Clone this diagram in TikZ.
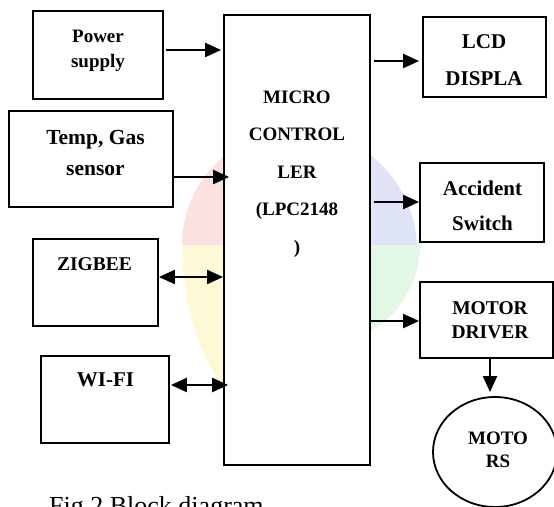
\documentclass[tikz,border=0pt]{standalone}
\usepackage{fontspec}
\setmainfont{Liberation Serif}
\usetikzlibrary{arrows.meta,calc,shapes.geometric}
\definecolor{wpink}{RGB}{251,226,224}
\definecolor{wyel}{RGB}{255,248,214}
\definecolor{wblue}{RGB}{222,228,246}
\definecolor{wgreen}{RGB}{226,247,228}
\begin{document}
\begin{tikzpicture}[x=1pt,y=-1pt,
  box/.style={draw,line width=1.8pt,fill=white,inner sep=0pt},
  lbl/.style={align=center,anchor=base,inner sep=0pt},
  arr/.style={line width=2.2pt,-{Triangle[length=16pt,width=14pt]}},
  biarr/.style={line width=2.2pt,{Triangle[length=16pt,width=14pt]}-{Triangle[length=16pt,width=14pt]}}]
\useasboundingbox (0,0) rectangle (554,506);
\clip (0,0) rectangle (554,506);
% faint watermark colours
\fill[wpink] (297,245) -- (182,245) arc[start angle=180,end angle=270,radius=115] -- cycle;
\fill[wyel] (297,245) -- (182,245) arc[start angle=180,end angle=90,x radius=115,y radius=185] -- cycle;
\fill[wblue] (297,245) -- (297,130) arc[start angle=270,end angle=360,radius=120] -- cycle;
\fill[wgreen] (297,245) -- (420,245) arc[start angle=0,end angle=90,radius=100] -- cycle;
% boxes
\node[box,minimum width=130pt,minimum height=88pt] (power) at (98,55) {};
\node[box,minimum width=164pt,minimum height=96pt] (temp) at (91,159) {};
\node[box,minimum width=125pt,minimum height=87pt] (zig) at (95.5,282.5) {};
\node[box,minimum width=128pt,minimum height=87pt] (wifi) at (105,399.5) {};
\node[box,minimum width=146pt,minimum height=450pt] (main) at (297,240) {};
\node[box,minimum width=123pt,minimum height=80pt] (lcd) at (484.5,57) {};
\node[box,minimum width=124pt,minimum height=79pt] (acc) at (482,202.5) {};
\node[box,minimum width=133pt,minimum height=76pt] (drv) at (486.5,320) {};
\node[box,ellipse,minimum width=124pt,minimum height=110pt] (mot) at (495,452) {};
% labels (anchor = baseline of last line)
\node[lbl,font=\bfseries\fontsize{19}{25}\selectfont] (tpower) at (98,67) {Power\\supply};
\node[lbl,font=\bfseries\fontsize{21.5}{31}\selectfont] (ttemp) at (95.5,175) {Temp, Gas\\sensor};
\node[lbl,font=\bfseries\fontsize{19.5}{24}\selectfont] (tzig) at (94.5,270) {ZIGBEE};
\node[lbl,font=\bfseries\fontsize{21}{24}\selectfont] (twifi) at (105.5,386) {WI-FI};
\node[lbl,font=\bfseries\fontsize{19}{37.5}\selectfont] (tmain) at (297,253) {MICRO\\CONTROL\\LER\\(LPC2148\\)};
\node[lbl,font=\bfseries\fontsize{21}{37}\selectfont] (tlcd) at (484,85) {LCD\\DISPLA};
\node[lbl,font=\bfseries\fontsize{21}{35}\selectfont] (tacc) at (482.5,230) {Accident\\Switch};
\node[lbl,font=\bfseries\fontsize{19.5}{24}\selectfont] (tdrv) at (490,338) {MOTOR\\DRIVER};
\node[lbl,font=\bfseries\fontsize{19}{23}\selectfont] (tmot) at (498,467) {MOTO\\RS};
\node[anchor=base west,inner sep=0pt,font=\fontsize{26}{30}\selectfont] (cap) at (49,514) {Fig 2 Block diagram};
% connectors
\draw[arr] ([xshift=2pt]power.east |- 0,50) -- ([xshift=-2pt]main.west |- 0,50);
\draw[arr] (temp.east |- 0,177) -- ([xshift=6pt]main.west |- 0,177);
\draw[biarr] (zig.east |- 0,277) -- (main.west |- 0,277);
\draw[biarr] ([xshift=1pt]wifi.east |- 0,385) -- ([xshift=5pt]main.west |- 0,385);
\draw[arr] ([xshift=3pt]main.east |- 0,61) -- ([xshift=-3pt]lcd.west |- 0,61);
\draw[arr] ([xshift=3pt]main.east |- 0,202) -- (acc.west |- 0,202);
\draw[arr] (main.east |- 0,321) -- (drv.west |- 0,321);
\draw[arr,shorten >=4pt] (drv.south -| 490,0) -- (mot.north -| 490,0);
\end{tikzpicture}
\end{document}
